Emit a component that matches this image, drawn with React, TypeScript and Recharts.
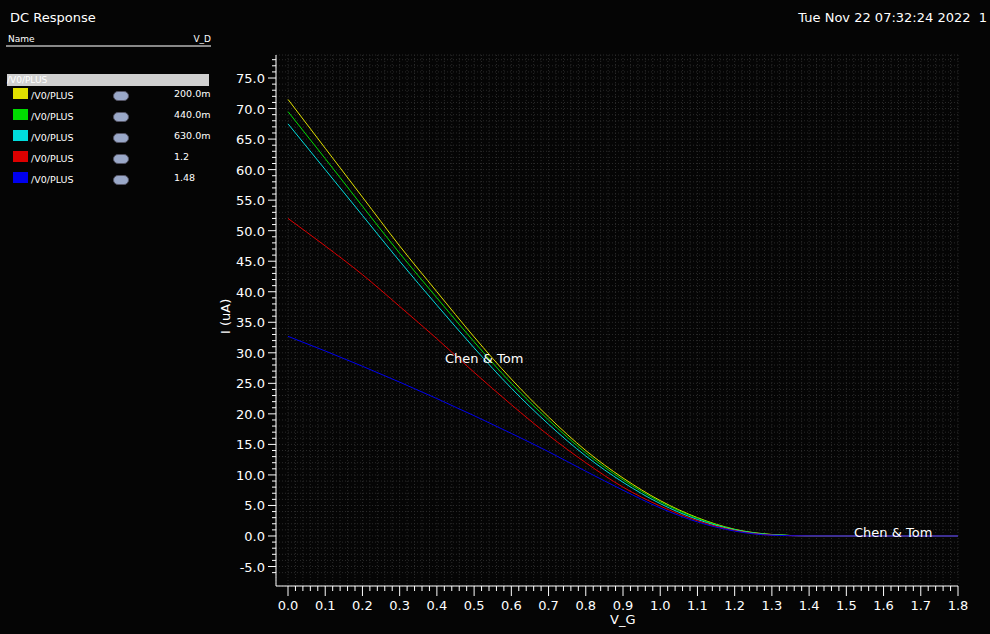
import { LineChart, Line, XAxis, YAxis, CartesianGrid } from "recharts";

const VG = [0, 0.1, 0.2, 0.3, 0.4, 0.5, 0.6, 0.7, 0.8, 0.9, 1.0, 1.1, 1.2, 1.3, 1.4, 1.5, 1.6, 1.7, 1.8];
const VD_LABELS = ["200.0m", "440.0m", "630.0m", "1.2", "1.48"];
const COLORS = ["#e0e000", "#00dd00", "#00dddd", "#dd0000", "#0000ee"];
const I_200m = [71.5, 63.5, 55.5, 47.5, 40, 32.6, 25.7, 19.5, 14, 9.5, 5.8, 3, 1.1, 0.25, 0.02, 0, 0, 0, 0];
const I_440m = [69.5, 61.8, 54, 46.3, 39, 31.8, 25, 19, 13.6, 9.2, 5.6, 2.9, 1.05, 0.22, 0.02, 0, 0, 0, 0];
const I_630m = [67.5, 60, 52.5, 45, 37.8, 30.8, 24.2, 18.3, 13.1, 8.8, 5.3, 2.7, 1.0, 0.2, 0.02, 0, 0, 0, 0];
const I_1p2 = [52, 47.5, 42.8, 37.6, 32.3, 26.8, 21.5, 16.5, 12, 8, 4.9, 2.5, 0.9, 0.15, 0.01, 0, 0, 0, 0];
const I_1p48 = [32.7, 30.3, 27.8, 25.2, 22.5, 19.7, 16.8, 13.8, 10.6, 7.5, 4.6, 2.3, 0.8, 0.12, 0.01, 0, 0, 0, 0];
const SERIES = [I_200m, I_440m, I_630m, I_1p2, I_1p48];

const data = VG.map((v, i) => {
  const row: any = { vg: v };
  SERIES.forEach((s, k) => (row["s" + k] = s[i]));
  return row;
});

const X_TICKS = Array.from({ length: 91 }, (_, i) => +(i * 0.02).toFixed(2));
const Y_TICKS = Array.from({ length: 85 }, (_, i) => i - 6);

const font = "'DejaVu Sans', sans-serif";

function XTick({ x, y, payload }: any) {
  const v = payload.value;
  const major = Math.abs(v * 10 - Math.round(v * 10)) < 1e-6;
  return (
    <g>
      <line x1={x} x2={x} y1={y} y2={y + (major ? 10 : 5)} stroke="#fff" />
      {major && (
        <text x={x} y={y + 24} fill="#fff" fontSize={13} textAnchor="middle" fontFamily={font}>
          {v.toFixed(1)}
        </text>
      )}
    </g>
  );
}

function YTick({ x, y, payload }: any) {
  const v = payload.value;
  const major = v % 5 === 0;
  return (
    <g>
      <line x1={x - (major ? 8 : 4)} x2={x} y1={y} y2={y} stroke="#fff" />
      {major && (
        <text x={x - 11} y={y + 5} fill="#fff" fontSize={13} textAnchor="end" fontFamily={font}>
          {v.toFixed(1)}
        </text>
      )}
    </g>
  );
}

export default function App() {
  return (
    <div style={{ position: "absolute", left: 0, top: 0, width: 990, height: 634, background: "#050505", fontFamily: font, color: "#fff", overflow: "hidden" }}>
      <div style={{ position: "absolute", left: 10, top: 10, fontSize: 13 }}>DC Response</div>
      <div style={{ position: "absolute", right: 3, top: 10, fontSize: 13 }}>Tue Nov 22 07:32:24 2022 &nbsp;1</div>
      <div style={{ position: "absolute", left: 6, top: 34, width: 205, fontSize: 9, borderBottom: "2px solid #888", paddingBottom: 1 }}>
        <span style={{ marginLeft: 2 }}>Name</span>
        <span style={{ float: "right" }}>V_D</span>
      </div>
      <div style={{ position: "absolute", left: 7, top: 74, width: 202, height: 12, background: "#d0d0d0", fontSize: 9, lineHeight: "12px" }}>/V0/PLUS</div>
      {VD_LABELS.map((l, i) => (
        <div key={l} style={{ position: "absolute", left: 13, top: 88 + i * 21, width: 196, height: 14, fontSize: 9.5 }}>
          <span style={{ position: "absolute", left: 0, top: 0, width: 15, height: 11, background: COLORS[i] }} />
          <span style={{ position: "absolute", left: 18, top: 2 }}>/V0/PLUS</span>
          <span style={{ position: "absolute", left: 100, top: 3, width: 14, height: 8, borderRadius: 7, background: "#9aa8c8", border: "1px solid #556" }} />
          <span style={{ position: "absolute", left: 161, top: 0 }}>{l}</span>
        </div>
      ))}
      <div style={{ position: "absolute", left: 0, top: 0 }}>
        <LineChart width={990} height={634} data={data} margin={{ top: 55, right: 32, bottom: 0, left: 0 }}>
          <CartesianGrid stroke="#2a2a2a" strokeDasharray="1 2" />
          <XAxis
            dataKey="vg"
            type="number"
            domain={[0, 1.8]}
            ticks={X_TICKS}
            interval={0}
            padding={{ left: 12, right: 0 }}
            height={48}
            axisLine={{ stroke: "#fff" }}
            tickLine={false}
            tickSize={0}
            tickMargin={0}
            tick={<XTick />}
          />
          <YAxis
            type="number"
            domain={[-6.88, 78.77]}
            ticks={Y_TICKS}
            interval={0}
            padding={{ top: 0, bottom: 8 }}
            width={276}
            axisLine={{ stroke: "#fff" }}
            tickLine={false}
            tickSize={0}
            tickMargin={0}
            tick={<YTick />}
            allowDataOverflow
          />
          {SERIES.map((_, k) => (
            <Line key={k} dataKey={"s" + k} type="monotone" stroke={COLORS[k]} strokeWidth={1} dot={false} isAnimationActive={false} />
          ))}
        </LineChart>
      </div>
      <div style={{ position: "absolute", left: 218, top: 334, fontSize: 13, transform: "rotate(-90deg)", transformOrigin: "left top", whiteSpace: "nowrap" }}>I (uA)</div>
      <div style={{ position: "absolute", left: 610, top: 612, fontSize: 13 }}>V_G</div>
      <div style={{ position: "absolute", left: 445, top: 351, fontSize: 13 }}>Chen &amp; Tom</div>
      <div style={{ position: "absolute", left: 854, top: 525, fontSize: 13 }}>Chen &amp; Tom</div>
    </div>
  );
}
